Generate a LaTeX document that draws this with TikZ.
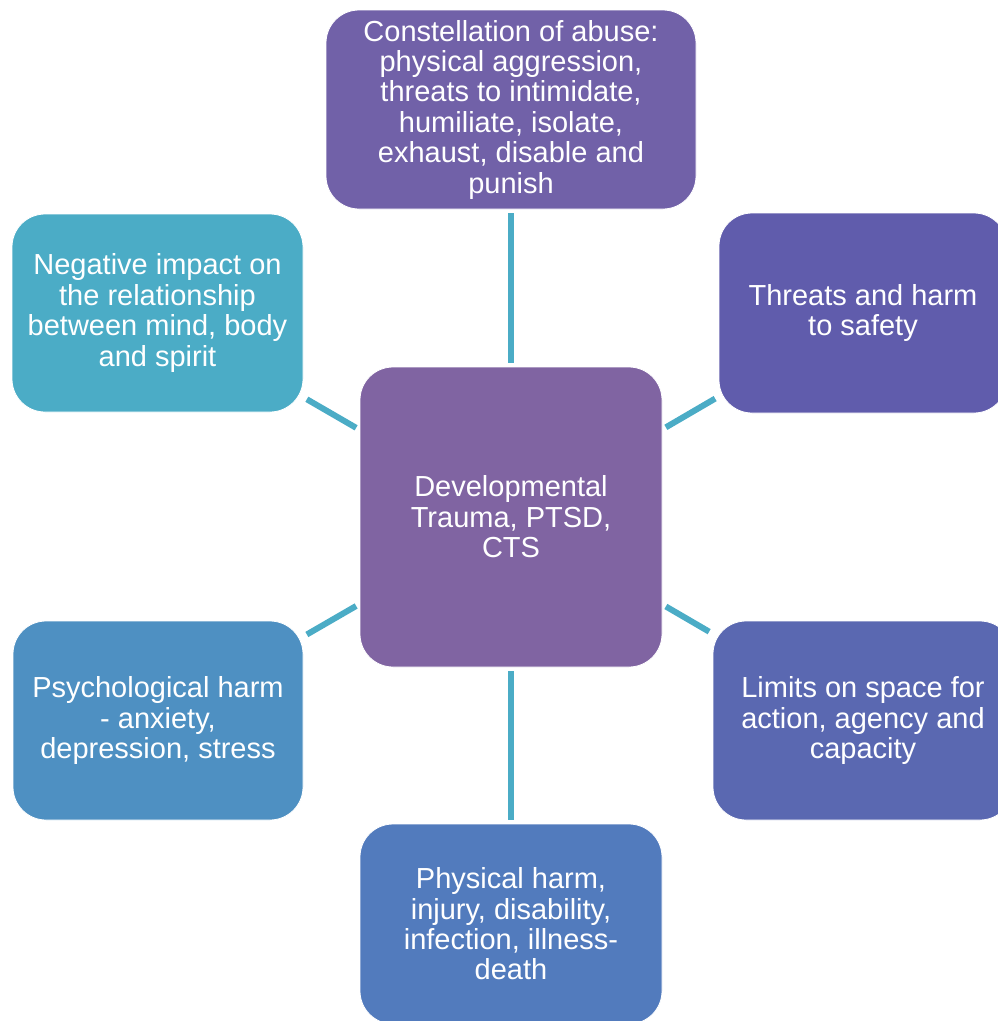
\documentclass[tikz,border=0pt]{standalone}
\usepackage{fontspec}
\setmainfont{Liberation Sans}
\definecolor{ctop}{HTML}{7161A8}
\definecolor{cur}{HTML}{605CAC}
\definecolor{clr}{HTML}{5A68B1}
\definecolor{cbot}{HTML}{527BBD}
\definecolor{cll}{HTML}{4E90C2}
\definecolor{cul}{HTML}{4BACC6}
\definecolor{ccen}{HTML}{8064A2}
\definecolor{linec}{HTML}{4BACC6}
\begin{document}
\begin{tikzpicture}[x=1pt,y=-1pt,
  box/.style={rectangle, rounded corners=33pt, draw=white, line width=0.8pt,
    text=white, align=center, inner sep=0pt,
    font=\fontsize{29}{30.4}\selectfont},
  conn/.style={draw=linec, line width=6pt, shorten <=4pt, shorten >=4pt}]
\useasboundingbox (0,0) rectangle (998,1021);
\clip (0,0) rectangle (998,1021);
\node[box, fill=ccen, minimum width=302pt, minimum height=300pt] (c) at (511,517)
  {Developmental\\Trauma, PTSD,\\CTS};
\node[box, fill=ctop, minimum width=370pt, minimum height=199pt] (top) at (511,109.5)
  {Constellation of abuse:\\physical aggression,\\threats to intimidate,\\humiliate, isolate,\\exhaust, disable and\\punish};
\node[box, fill=cur, minimum width=288pt, minimum height=200pt] (ur) at (863,313)
  {Threats and harm\\to safety};
\node[box, fill=clr, minimum width=300pt, minimum height=199pt] (lr) at (863,720.5)
  {Limits on space for\\action, agency and\\capacity};
\node[box, fill=cbot, minimum width=302pt, minimum height=200pt] (bot) at (511,924)
  {Physical harm,\\injury, disability,\\infection, illness-\\death};
\node[box, fill=cll, minimum width=290pt, minimum height=199pt] (ll) at (158,720.5)
  {Psychological harm\\- anxiety,\\depression, stress};
\node[box, fill=cul, minimum width=291pt, minimum height=198pt] (ul) at (157.5,313)
  {Negative impact on\\the relationship\\between mind, body\\and spirit};
\draw[conn] (top) -- (c);
\draw[conn] (ur) -- (c);
\draw[conn] (lr) -- (c);
\draw[conn] (bot) -- (c);
\draw[conn] (ll) -- (c);
\draw[conn] (ul) -- (c);
\end{tikzpicture}
\end{document}
